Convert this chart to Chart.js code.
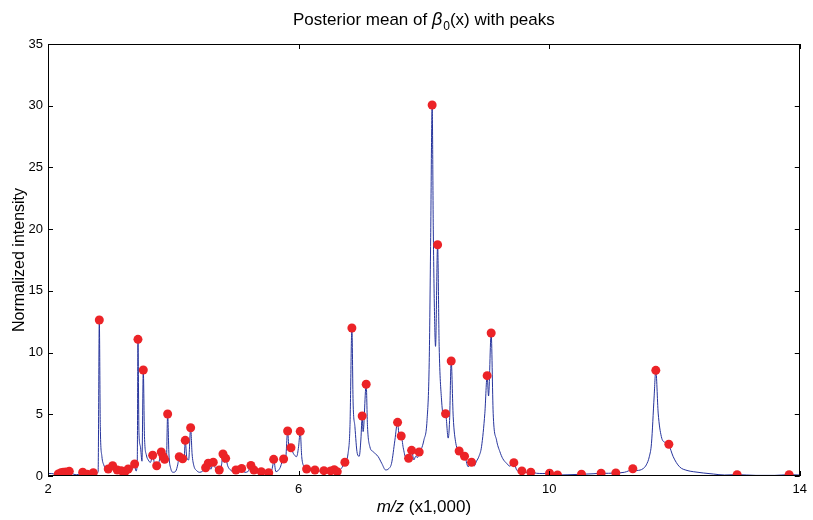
<!DOCTYPE html>
<html>
<head>
<meta charset="utf-8">
<script src="https://cdn.jsdelivr.net/npm/chart.js@4.4.1/dist/chart.umd.min.js"></script>
<style>
html,body{margin:0;padding:0;background:#fff;}
#wrap{width:813px;height:520px;position:relative;}
</style>
</head>
<body>
<div id="wrap"><canvas id="c" width="813" height="520"></canvas></div>
<script>
// ---- Data ----
const lineX = [2.00,2.06,2.11,2.16,2.21,2.24,2.29,2.34,2.38,2.45,2.51,2.55,2.60,2.63,2.67,2.72,2.77,2.80,2.819,2.835,2.86,2.89,2.94,2.962,3.00,3.032,3.07,3.106,3.14,3.17,3.20,3.233,3.26,3.281,3.33,3.383,3.405,3.425,3.436,3.452,3.475,3.50,3.521,3.54,3.57,3.60,3.635,3.671,3.70,3.735,3.77,3.808,3.84,3.862,3.89,3.910,3.93,3.96,4.00,4.04,4.07,4.095,4.12,4.149,4.172,4.191,4.215,4.245,4.277,4.30,4.33,4.37,4.42,4.47,4.516,4.558,4.60,4.638,4.68,4.734,4.77,4.793,4.815,4.836,4.87,4.92,4.96,5.00,5.05,5.091,5.14,5.19,5.239,5.287,5.34,5.404,5.46,5.523,5.565,5.59,5.602,5.638,5.70,5.761,5.79,5.825,5.846,5.878,5.915,5.968,6.00,6.026,6.05,6.085,6.128,6.19,6.261,6.33,6.404,6.46,6.511,6.569,6.617,6.68,6.739,6.79,6.82,6.851,6.87,6.899,6.936,6.968,6.995,7.015,7.03,7.079,7.10,7.138,7.19,7.27,7.33,7.389,7.44,7.484,7.537,7.580,7.61,7.638,7.67,7.71,7.756,7.78,7.804,7.84,7.87,7.90,7.925,7.96,8.00,8.05,8.085,8.107,8.132,8.15,8.17,8.186,8.219,8.244,8.282,8.308,8.346,8.388,8.41,8.436,8.468,8.51,8.563,8.60,8.649,8.706,8.761,8.80,8.84,8.88,8.92,8.973,9.010,9.032,9.074,9.106,9.16,9.213,9.26,9.32,9.372,9.436,9.48,9.53,9.564,9.63,9.707,9.80,9.90,10.006,10.133,10.30,10.516,10.70,10.829,10.95,11.064,11.20,11.335,11.40,11.50,11.55,11.60,11.633,11.675,11.702,11.74,11.79,11.85,11.91,11.98,12.08,12.20,12.30,12.62,12.80,13.00,13.30,13.60,13.83,14.00];
const lineY = [0.20,0.20,0.15,0.16,0.27,0.30,0.32,0.38,0.22,0.10,0.18,0.30,0.16,0.14,0.16,0.27,0.20,0.35,12.64,4.0,1.6,0.9,0.55,0.57,0.45,0.83,0.40,0.49,0.30,0.43,0.30,0.38,0.35,0.57,0.45,0.97,0.40,1.2,11.07,3.5,2.4,1.2,8.59,3.2,1.7,1.3,1.1,1.68,1.0,0.83,1.1,1.94,1.56,1.35,1.3,5.02,1.8,0.6,0.3,0.4,0.9,1.56,1.2,1.40,1.3,2.89,1.5,1.3,3.91,1.8,0.8,0.45,0.30,0.40,0.67,1.03,0.55,1.11,0.55,0.49,0.9,1.78,1.1,1.43,0.8,0.45,0.35,0.49,0.30,0.61,0.30,0.35,0.85,0.49,0.30,0.35,0.20,0.26,0.4,0.9,1.35,0.35,0.62,1.38,1.2,3.65,2.37,2.29,1.84,1.57,2.37,3.62,1.57,0.76,0.57,0.45,0.49,0.40,0.43,0.35,0.41,0.51,0.35,0.6,1.11,1.84,4.0,11.99,6.0,4.0,1.84,1.6,3.0,4.86,3.6,7.43,4.0,2.37,1.97,1.57,1.0,0.49,0.6,1.03,2.9,4.35,3.0,3.24,2.3,1.5,1.43,1.5,2.08,1.3,1.6,1.5,1.94,2.2,2.9,4.5,9.2,18.6,30.06,20.0,13.0,10.5,18.74,10.5,6.16,5.05,5.04,3.07,4.5,9.32,4.8,2.65,2.03,1.6,1.60,0.75,1.11,0.8,1.2,1.6,2.37,5.08,8.13,6.48,11.59,5.08,2.9,1.97,1.4,1.03,0.8,1.08,0.5,0.35,0.41,0.30,0.30,0.22,0.20,0.22,0.08,0.10,0.14,0.18,0.22,0.22,0.24,0.30,0.50,0.45,0.6,0.9,1.6,2.65,6.4,8.56,5.1,3.2,2.7,2.5,1.56,0.75,0.45,0.35,0.16,0.08,0.11,0.05,0.05,0.11,0.08];

const peakX = [2.164,2.207,2.244,2.287,2.340,2.554,2.627,2.723,2.819,2.962,3.032,3.106,3.170,3.233,3.281,3.383,3.436,3.521,3.671,3.735,3.808,3.840,3.862,3.910,4.095,4.149,4.191,4.277,4.516,4.558,4.638,4.734,4.793,4.836,5.000,5.091,5.239,5.287,5.404,5.523,5.602,5.761,5.825,5.878,6.026,6.128,6.261,6.404,6.511,6.569,6.617,6.739,6.851,7.015,7.079,7.580,7.638,7.756,7.804,7.925,8.132,8.219,8.346,8.436,8.563,8.649,8.761,9.010,9.074,9.436,9.564,9.707,10.006,10.133,10.516,10.829,11.064,11.335,11.702,11.910,13.000,13.830];
const peakY = [0.16,0.27,0.30,0.32,0.38,0.30,0.14,0.27,12.64,0.57,0.83,0.49,0.43,0.38,0.57,0.97,11.07,8.59,1.68,0.83,1.94,1.56,1.35,5.02,1.56,1.40,2.89,3.91,0.67,1.03,1.11,0.49,1.78,1.43,0.49,0.61,0.85,0.49,0.35,0.26,1.35,1.38,3.65,2.29,3.62,0.57,0.49,0.43,0.41,0.51,0.35,1.11,11.99,4.86,7.43,4.35,3.24,1.43,2.08,1.94,30.06,18.74,5.04,9.32,2.03,1.60,1.11,8.13,11.59,1.08,0.41,0.30,0.22,0.08,0.14,0.22,0.24,0.59,8.56,2.57,0.11,0.11];

const xTickValues = [2, 6, 10, 14];
const yTickValues = [0, 5, 10, 15, 20, 25, 30, 35];

const titleParts = ["Posterior mean of ", "\u03B2", "0", "(x) with peaks"];
const xTitleParts = ["m/z", " (x1,000)"];
const yTitle = "Normalized intensity";

// ---- Chart ----
const FONT = '"Liberation Sans", Arial, Helvetica, sans-serif';
Chart.defaults.font.family = FONT;
Chart.defaults.color = '#000';

const lineData = lineX.map((x, i) => ({x: x, y: lineY[i]}));
const peakData = peakX.map((x, i) => ({x: x, y: peakY[i]}));

const framePlugin = {
  id: 'frame',
  afterDraw(chart) {
    const ctx = chart.ctx;
    const a = chart.chartArea;
    const xs = chart.scales.x, ys = chart.scales.y;
    ctx.save();
    ctx.strokeStyle = '#000';
    ctx.lineWidth = 1;
    ctx.strokeRect(Math.round(a.left) + 0.5, Math.round(a.top) + 0.5,
                   Math.round(a.right - a.left) - 1, Math.round(a.bottom - a.top) - 1);
    const tl = 5;
    ctx.beginPath();
    xTickValues.forEach(v => {
      const p = Math.round(xs.getPixelForValue(v)) + 0.5;
      ctx.moveTo(p, a.bottom); ctx.lineTo(p, a.bottom - tl);
      ctx.moveTo(p, a.top); ctx.lineTo(p, a.top + tl);
    });
    yTickValues.forEach(v => {
      const p = Math.round(ys.getPixelForValue(v)) + 0.5;
      ctx.moveTo(a.left, p); ctx.lineTo(a.left + tl, p);
      ctx.moveTo(a.right, p); ctx.lineTo(a.right - tl, p);
    });
    ctx.stroke();

    const cx = (a.left + a.right) / 2;
    // Title
    ctx.fillStyle = '#000';
    ctx.textBaseline = 'alphabetic';
    ctx.textAlign = 'left';
    const fMain = '17px ' + FONT, fItal = 'italic 18px ' + FONT, fSub = '12px ' + FONT;
    ctx.font = fMain; const w0 = ctx.measureText(titleParts[0]).width;
    ctx.font = fItal; const w1 = ctx.measureText(titleParts[1]).width + 1;
    ctx.font = fSub; const w2 = ctx.measureText(titleParts[2]).width;
    ctx.font = fMain; const w3 = ctx.measureText(titleParts[3]).width;
    let tx = cx - (w0 + w1 + w2 + w3) / 2;
    const ty = 25;
    ctx.font = fMain; ctx.fillText(titleParts[0], tx, ty); tx += w0;
    ctx.font = fItal; ctx.fillText(titleParts[1], tx, ty); tx += w1;
    ctx.font = fSub; ctx.fillText(titleParts[2], tx, ty + 5); tx += w2;
    ctx.font = fMain; ctx.fillText(titleParts[3], tx, ty);

    // X title
    const fx1 = 'italic 17px ' + FONT, fx2 = '17px ' + FONT;
    ctx.font = fx1; const xw1 = ctx.measureText(xTitleParts[0]).width;
    ctx.font = fx2; const xw2 = ctx.measureText(xTitleParts[1]).width;
    let xx = cx - (xw1 + xw2) / 2;
    ctx.font = fx1; ctx.fillText(xTitleParts[0], xx, 512);
    ctx.font = fx2; ctx.fillText(xTitleParts[1], xx + xw1, 512);

    // Y title
    ctx.translate(24, (a.top + a.bottom) / 2);
    ctx.rotate(-Math.PI / 2);
    ctx.textAlign = 'center';
    ctx.font = '16px ' + FONT;
    ctx.fillText(yTitle, 0, 0);
    ctx.restore();
  }
};

new Chart(document.getElementById('c'), {
  type: 'line',
  data: {
    datasets: [
      {
        type: 'scatter',
        data: peakData,
        backgroundColor: '#ec2327',
        borderColor: '#ec2327',
        borderWidth: 0,
        pointRadius: 4.5,
        pointHoverRadius: 4.5,
        order: 0
      },
      {
        type: 'line',
        data: lineData,
        borderColor: '#26349c',
        borderWidth: 1,
        pointRadius: 0,
        fill: false,
        cubicInterpolationMode: 'monotone',
        order: 1
      }
    ]
  },
  options: {
    responsive: false,
    animation: false,
    events: [],
    layout: {padding: {top: 44, right: 13, left: 0, bottom: 0}},
    plugins: {legend: {display: false}, tooltip: {enabled: false}, title: {display: false}},
    scales: {
      x: {
        type: 'linear', min: 2, max: 14,
        grid: {display: false, drawTicks: false},
        border: {display: false},
        ticks: {font: {size: 13}, color: '#000', padding: 6, maxRotation: 0, autoSkip: false},
        afterBuildTicks: s => { s.ticks = xTickValues.map(v => ({value: v})); },
        afterFit: s => { s.height = 44; }
      },
      y: {
        type: 'linear', min: 0, max: 35,
        grid: {display: false, drawTicks: false},
        border: {display: false},
        ticks: {font: {size: 13}, color: '#000', padding: 5},
        afterBuildTicks: s => { s.ticks = yTickValues.map(v => ({value: v})); },
        afterFit: s => { s.width = 48; }
      }
    }
  },
  plugins: [framePlugin]
});
</script>
</body>
</html>
